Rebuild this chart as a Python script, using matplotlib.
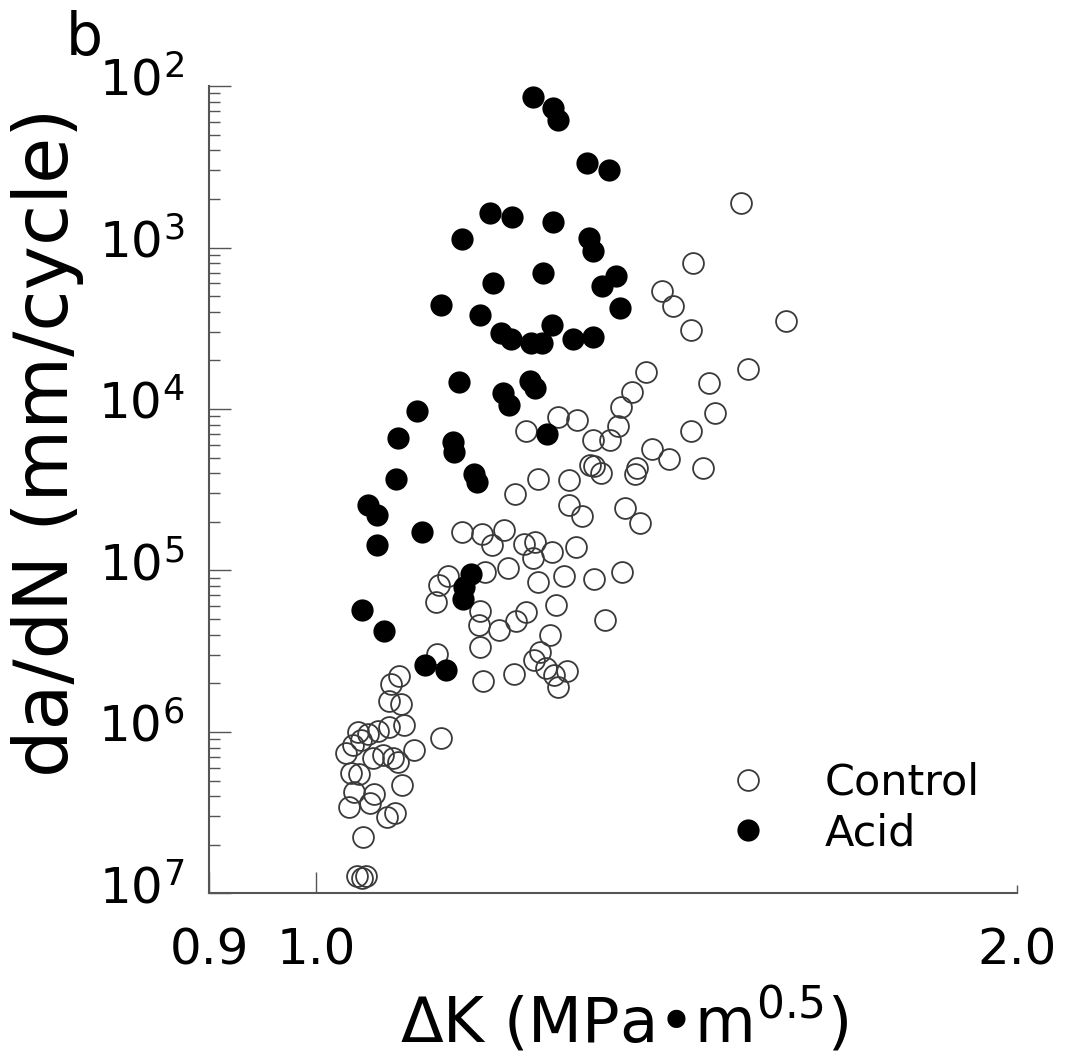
import matplotlib
matplotlib.use("Agg")
import matplotlib.pyplot as plt
from matplotlib.ticker import LogLocator, NullLocator, FixedLocator
from matplotlib.transforms import ScaledTranslation

plt.rcParams['font.family'] = ['DejaVu Sans']
plt.rcParams['mathtext.default'] = 'regular'

# Control (open circles)
control_dK = [1.5225, 1.4520, 1.4083, 1.4237, 1.4491, 1.5916, 1.5330, 1.3863, 1.3669, 1.3521,
              1.3481, 1.3379, 1.3156, 1.4751, 1.2697, 1.2938, 1.4839, 1.4491, 1.3945, 1.4181,
              1.4664, 1.3105, 1.3169, 1.3248, 1.3740, 1.3713, 1.2836, 1.2314, 1.2449, 1.2170,
              1.2836, 1.3014, 1.3578, 1.3781, 1.1549, 1.1780, 1.2038, 1.1897, 1.2278, 1.2412,
              1.2388, 1.2623, 1.2925, 1.3538, 1.3169, 1.2785, 1.2449, 1.2086, 1.1815, 1.1392,
              1.1291, 1.1257, 1.2672, 1.2314, 1.2182, 1.1756, 1.1745, 1.1979, 1.2598, 1.3313,
              1.2474, 1.2400, 1.2548, 1.2647, 1.2709, 1.2823, 1.1756, 1.1268, 1.1791, 1.2158,
              1.0853, 1.0768, 1.0747, 1.0875, 1.0423, 1.0527, 1.0631, 1.0747, 1.0907, 1.0454,
              1.0300, 1.0372, 1.0579, 1.0683, 1.0790, 1.0842, 1.1015, 1.1313, 1.0351, 1.0433,
              1.0886, 1.0382, 1.0589, 1.0547, 1.0331, 1.0726, 1.0811, 1.0475, 1.0413, 1.0465,
              1.0506]
control_rate = [1.88e-3, 8.05e-4, 5.40e-4, 4.36e-4, 3.10e-4, 3.52e-4, 1.78e-4, 1.70e-4, 1.28e-4, 1.03e-4,
                7.79e-5, 6.47e-5, 6.38e-5, 1.44e-4, 8.86e-5, 8.49e-5, 9.38e-5, 7.26e-5, 5.69e-5, 4.87e-5,
                4.28e-5, 4.53e-5, 4.41e-5, 3.99e-5, 4.34e-5, 3.93e-5, 3.61e-5, 7.26e-5, 3.71e-5, 2.96e-5,
                2.56e-5, 2.16e-5, 2.45e-5, 1.98e-5, 1.74e-5, 1.67e-5, 1.79e-5, 1.43e-5, 1.45e-5, 1.51e-5,
                1.20e-5, 1.31e-5, 1.39e-5, 9.75e-6, 8.82e-6, 9.21e-6, 8.45e-6, 1.03e-5, 9.75e-6, 9.21e-6,
                8.10e-6, 6.36e-6, 6.09e-6, 5.51e-6, 4.85e-6, 5.59e-6, 4.58e-6, 4.26e-6, 3.97e-6, 4.92e-6,
                3.12e-6, 2.78e-6, 2.48e-6, 2.24e-6, 1.89e-6, 2.38e-6, 3.35e-6, 3.03e-6, 2.06e-6, 2.28e-6,
                2.21e-6, 1.97e-6, 1.55e-6, 1.48e-6, 9.97e-7, 9.69e-7, 1.02e-6, 1.07e-6, 1.10e-6, 8.90e-7,
                7.39e-7, 8.29e-7, 6.88e-7, 7.18e-7, 6.88e-7, 6.50e-7, 7.72e-7, 9.15e-7, 5.56e-7, 5.48e-7,
                4.68e-7, 4.24e-7, 4.12e-7, 3.62e-7, 3.42e-7, 2.97e-7, 3.14e-7, 2.23e-7, 1.28e-7, 1.24e-7,
                1.28e-7]

# Acid (filled circles)
acid_dK = [1.2388, 1.2635, 1.2697, 1.3066, 1.3366, 1.1873, 1.2134, 1.2635, 1.1549, 1.3092,
           1.3156, 1.2511, 1.1909, 1.3458, 1.3274, 1.1313, 1.3511, 1.1756, 1.2002, 1.2122,
           1.2363, 1.2499, 1.2623, 1.2899, 1.3156, 1.1515, 1.2026, 1.2098, 1.2351, 1.2412,
           1.1048, 1.0842, 1.2560, 1.1447, 1.1458, 1.1687, 1.1722, 1.0821, 1.0527, 1.0620,
           1.1102, 1.0620, 1.1652, 1.1572, 1.1561, 1.0465, 1.0694, 1.1136, 1.1369]
acid_rate = [8.52e-3, 7.29e-3, 6.14e-3, 3.33e-3, 3.01e-3, 1.63e-3, 1.54e-3, 1.44e-3, 1.13e-3, 1.14e-3,
             9.55e-4, 6.98e-4, 6.05e-4, 6.69e-4, 5.80e-4, 4.42e-4, 4.24e-4, 3.84e-4, 2.97e-4, 2.72e-4,
             2.57e-4, 2.57e-4, 3.33e-4, 2.72e-4, 2.80e-4, 1.46e-4, 1.26e-4, 1.06e-4, 1.50e-4, 1.34e-4,
             9.65e-5, 6.57e-5, 6.95e-5, 6.20e-5, 5.38e-5, 3.93e-5, 3.51e-5, 3.71e-5, 2.56e-5, 2.22e-5,
             1.72e-5, 1.43e-5, 9.47e-6, 7.87e-6, 6.63e-6, 5.67e-6, 4.20e-6, 2.59e-6, 2.41e-6]

x_ticks = [0.9, 1.0, 2.0]
x_ticklabels = ['0.9', '1.0', '2.0']
y_ticks = [1e-7, 1e-6, 1e-5, 1e-4, 1e-3, 1e-2]
y_ticklabels = ['10$^{7}$', '10$^{6}$', '10$^{5}$', '10$^{4}$', '10$^{3}$', '10$^{2}$']

fig = plt.figure(figsize=(10.72, 10.61), dpi=100)
ax = fig.add_axes([0.1951, 0.1580, 0.7540, 0.7609])

ax.plot(control_dK, control_rate, 'o', ls='none', ms=15, mfc='none', mec='#3a3a3a', mew=1.3,
        label='Control')
ax.plot(acid_dK, acid_rate, 'o', ls='none', ms=16, mfc='black', mec='black', mew=0,
        label='Acid')

ax.set_xscale('log')
ax.set_yscale('log')
ax.set_xlim(0.9, 2.0)
ax.set_ylim(1e-7, 1e-2)

ax.spines['top'].set_visible(False)
ax.spines['right'].set_visible(False)
for s in ['left', 'bottom']:
    ax.spines[s].set_color('#555555')
    ax.spines[s].set_linewidth(1.5)

ax.xaxis.set_major_locator(FixedLocator(x_ticks))
ax.xaxis.set_minor_locator(NullLocator())
ax.set_xticklabels(x_ticklabels)
ax.yaxis.set_major_locator(FixedLocator(y_ticks))
ax.yaxis.set_minor_locator(LogLocator(base=10, subs=range(2, 10), numticks=20))
ax.set_yticklabels(y_ticklabels)

ax.tick_params(axis='x', which='major', direction='in', length=15, width=1, color='#555555',
               labelsize=36, pad=24)
ax.tick_params(axis='y', which='major', direction='in', length=16, width=1, color='#555555',
               labelsize=36, pad=18)
ax.tick_params(axis='y', which='minor', direction='in', length=8, width=1, color='#555555')
ax.xaxis.get_major_ticks()[2].tick1line.set_markersize(6)

# y tick labels sit a little above their ticks in the original
shift = ScaledTranslation(0, 7 / 72, fig.dpi_scale_trans)
for lab in ax.get_yticklabels():
    lab.set_transform(lab.get_transform() + shift)

fig.text(48 / 1072, 1 - 442 / 1061, 'da/dN (mm/cycle)', rotation=90, fontsize=54,
         ha='center', va='center')
fig.text(624 / 1072, 1 - 1020 / 1061, r'ΔK (MPa•m$^{0.5}$)', fontsize=45,
         ha='center', va='center')
fig.text(66 / 1072, 1 - 55 / 1061, 'b', fontsize=42, ha='left', va='baseline')

ax.legend(loc='center left', bbox_to_anchor=(726 / 1072, 1 - 808 / 1061),
          bbox_transform=fig.transFigure, frameon=False, fontsize=31, handlelength=1.0,
          handletextpad=1.3, labelspacing=0.2, borderpad=0, borderaxespad=0, markerscale=1.0)

fig.savefig('out.png', dpi=100)
